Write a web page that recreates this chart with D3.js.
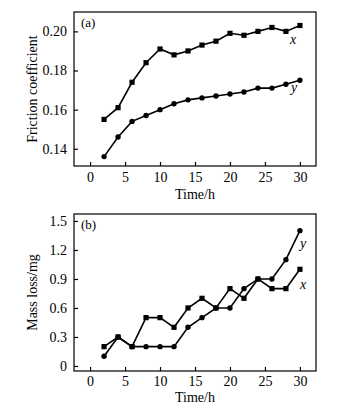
<!DOCTYPE html>
<html><head><meta charset="utf-8">
<script src="https://cdn.jsdelivr.net/npm/d3@7"></script>
<style>body{margin:0;background:#fff}svg{display:block}</style>
</head><body>
<script>
const time = [2,4,6,8,10,12,14,16,18,20,22,24,26,28,30];
const frictionX = [0.155,0.161,0.174,0.184,0.191,0.188,0.190,0.193,0.195,0.199,0.198,0.200,0.202,0.200,0.203];
const frictionY = [0.136,0.146,0.154,0.157,0.160,0.163,0.165,0.166,0.167,0.168,0.169,0.171,0.171,0.173,0.175];
const massX = [0.2,0.3,0.2,0.5,0.5,0.4,0.6,0.7,0.6,0.8,0.7,0.9,0.8,0.8,1.0];
const massY = [0.1,0.3,0.2,0.2,0.2,0.2,0.4,0.5,0.6,0.6,0.8,0.9,0.9,1.1,1.4];
const xTicks = [0,5,10,15,20,25,30];
const fricTicks = [0.14,0.16,0.18,0.20];
const massTicks = [0,0.3,0.6,0.9,1.2,1.5];

const W=342,H=416;
const svg=d3.select("body").append("svg").attr("width",W).attr("height",H);
const font="'Liberation Serif','Times New Roman',serif";

function panel(o){
  const g=svg.append("g");
  const x=d3.scaleLinear().domain([-2.3,32.3]).range([o.left,o.right]);
  const y=d3.scaleLinear().domain(o.ydom).range([o.bottom,o.top]);
  g.append("rect").attr("x",o.left).attr("y",o.top).attr("width",o.right-o.left).attr("height",o.bottom-o.top)
    .attr("fill","none").attr("stroke","#000").attr("stroke-width",1.2);
  const xa=g.append("g").attr("transform",`translate(0,${o.bottom})`)
    .call(d3.axisBottom(x).tickValues(xTicks).tickSizeInner(-4).tickSizeOuter(0).tickPadding(o.xpad).tickFormat(d3.format("d")));
  const ya=g.append("g").attr("transform",`translate(${o.left},0)`)
    .call(d3.axisLeft(y).tickValues(o.yticks).tickSizeInner(-4).tickSizeOuter(0).tickPadding(7).tickFormat(o.fmt));
  [xa,ya].forEach(a=>{a.select(".domain").remove();a.selectAll("line").attr("stroke","#000").attr("stroke-width",1.2);
    a.selectAll("text").attr("font-family",font).attr("font-size",14).attr("fill","#000");});
  g.append("text").attr("x",(o.left+o.right)/2).attr("y",o.bottom+o.tly).attr("text-anchor","middle")
    .attr("font-family",font).attr("font-size",14).text("Time/h");
  g.append("text").attr("transform",`translate(${o.ylx},${(o.top+o.bottom)/2}) rotate(-90)`).attr("text-anchor","middle")
    .attr("font-family",font).attr("font-size",14).text(o.ylabel);
  g.append("text").attr("x",o.left+7).attr("y",o.top+15).attr("font-family",font).attr("font-size",13).text(o.tag);
  const line=d3.line().x(d=>x(d[0])).y(d=>y(d[1]));
  o.series.forEach(s=>{
    const pts=time.map((t,i)=>[t,s.v[i]]);
    g.append("path").datum(pts).attr("d",line).attr("fill","none").attr("stroke","#000").attr("stroke-width",1.6);
    if(s.shape==="sq"){
      g.selectAll(null).data(pts).enter().append("rect").attr("x",d=>x(d[0])-2.6).attr("y",d=>y(d[1])-2.6)
        .attr("width",5.2).attr("height",5.2).attr("fill","#000");
    } else {
      g.selectAll(null).data(pts).enter().append("circle").attr("cx",d=>x(d[0])).attr("cy",d=>y(d[1])).attr("r",2.7).attr("fill","#000");
    }
    g.append("text").attr("x",s.lx).attr("y",s.ly).attr("font-family",font).attr("font-style","italic").attr("font-size",14).text(s.name);
  });
}

panel({left:74,right:316,top:12,bottom:166,ydom:[0.1312,0.2099],yticks:fricTicks,fmt:d3.format(".2f"),
  ylabel:"Friction coefficient",ylx:37,tag:"(a)",xpad:6,tly:33,
  series:[{v:frictionX,shape:"sq",name:"x",lx:290,ly:44},{v:frictionY,shape:"ci",name:"y",lx:291,ly:92}]});
panel({left:74,right:316,top:214,bottom:371,ydom:[-0.052,1.572],yticks:massTicks,fmt:d=>d===0?"0":d3.format(".1f")(d),
  ylabel:"Mass loss/mg",ylx:37,tag:"(b)",xpad:5,tly:31,
  series:[{v:massX,shape:"sq",name:"x",lx:300,ly:289},{v:massY,shape:"ci",name:"y",lx:300,ly:248}]});
</script>
</body></html>
